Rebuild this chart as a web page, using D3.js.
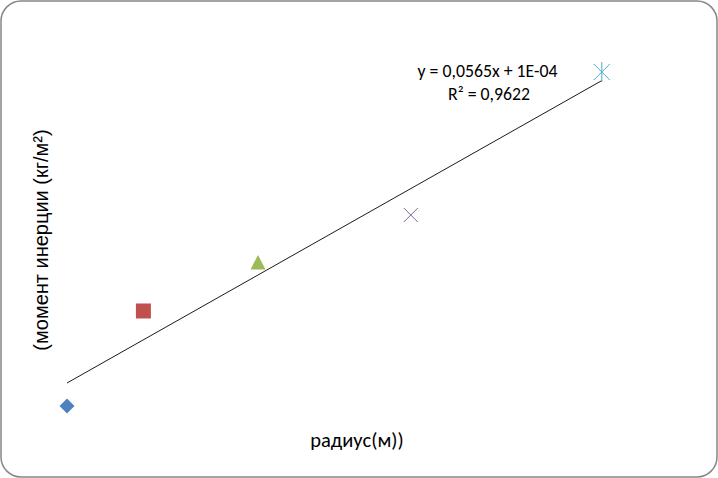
<!DOCTYPE html>
<html>
<head>
<meta charset="utf-8">
<script src="https://cdn.jsdelivr.net/npm/d3@7"></script>
<style>
  body { margin: 0; background: #fff; }
  svg { display: block; }
</style>
</head>
<body>
<svg id="chart" width="718" height="478"></svg>
<script>
// radius (m) and moment of inertia, one point per series
var radius = [0.02, 0.04, 0.07, 0.11, 0.16];
var inertia = [0.000624, 0.003124, 0.004387, 0.00565, 0.009413];
var markers = ["diamond", "square", "triangle", "cross", "star"];
var colors = ["#4F81BD", "#C0504D", "#9BBB59", "#8064A2", "#4BACC6"];
var eqLabel = "y = 0,0565x + 1E-04";
var r2Label = "R² = 0,9622";
var xTitle = "радиус(м))";
var yTitle = "(момент инерции (кг/м²)";

var svg = d3.select("#chart");
var W = 718, H = 478;

svg.append("rect")
  .attr("x", 1).attr("y", 1)
  .attr("width", W - 2).attr("height", H - 2)
  .attr("rx", 20).attr("ry", 20)
  .attr("fill", "#fff")
  .attr("stroke", "#868686")
  .attr("stroke-width", 1.5);

var x = d3.scaleLinear().domain([0.01, 0.17]).range([28.8, 640]);
var y = d3.scaleLinear().domain([0, 0.01]).range([429.7, 49.7]);

// least squares trend line
var n = radius.length;
var mx = d3.mean(radius), my = d3.mean(inertia);
var sxy = 0, sxx = 0;
for (var i = 0; i < n; i++) {
  sxy += (radius[i] - mx) * (inertia[i] - my);
  sxx += (radius[i] - mx) * (radius[i] - mx);
}
var slope = sxy / sxx;
var icpt = my - slope * mx;
var x0 = d3.min(radius), x1 = d3.max(radius);

svg.append("line")
  .attr("x1", x(x0)).attr("y1", y(slope * x0 + icpt))
  .attr("x2", x(x1)).attr("y2", y(slope * x1 + icpt))
  .attr("stroke", "#000")
  .attr("stroke-width", 0.9);

var pts = svg.append("g").selectAll("g")
  .data(radius.map(function(d, i) { return {x: d, y: inertia[i], m: markers[i], c: colors[i]}; }))
  .enter().append("g")
  .attr("transform", function(d) { return "translate(" + x(d.x) + "," + y(d.y) + ")"; });

pts.each(function(d) {
  var g = d3.select(this);
  if (d.m === "diamond") {
    g.append("path").attr("d", "M0,-7.5L7.5,0L0,7.5L-7.5,0Z").attr("fill", d.c);
  } else if (d.m === "square") {
    g.append("rect").attr("x", -7.5).attr("y", -7.5).attr("width", 15).attr("height", 15).attr("fill", d.c);
  } else if (d.m === "triangle") {
    g.append("path").attr("d", "M0,-8L7.5,6.5L-7.5,6.5Z").attr("fill", d.c);
  } else if (d.m === "cross") {
    g.append("path").attr("d", "M-7,-7L7,7M7,-7L-7,7").attr("stroke", d.c).attr("stroke-width", 1);
  } else {
    g.append("path").attr("d", "M-8,-8L8,8M8,-8L-8,8M0,-10L0,10").attr("stroke", d.c).attr("stroke-width", 1);
  }
});

var font = "Carlito, Calibri, 'Open Sans', sans-serif";

svg.append("text")
  .attr("x", 487.5).attr("y", 77)
  .attr("text-anchor", "middle")
  .attr("font-family", font).attr("font-size", 17.8)
  .text(eqLabel);
svg.append("text")
  .attr("x", 489).attr("y", 99.5)
  .attr("text-anchor", "middle")
  .attr("font-family", font).attr("font-size", 17.8)
  .text(r2Label);

svg.append("text")
  .attr("x", 357).attr("y", 447)
  .attr("text-anchor", "middle")
  .attr("font-family", font).attr("font-size", 20.5)
  .text(xTitle);

svg.append("text")
  .attr("transform", "translate(48,240) rotate(-90)")
  .attr("text-anchor", "middle")
  .attr("font-family", "'Liberation Sans', Arial, sans-serif").attr("font-size", 20)
  .text(yTitle);
</script>
</body>
</html>
